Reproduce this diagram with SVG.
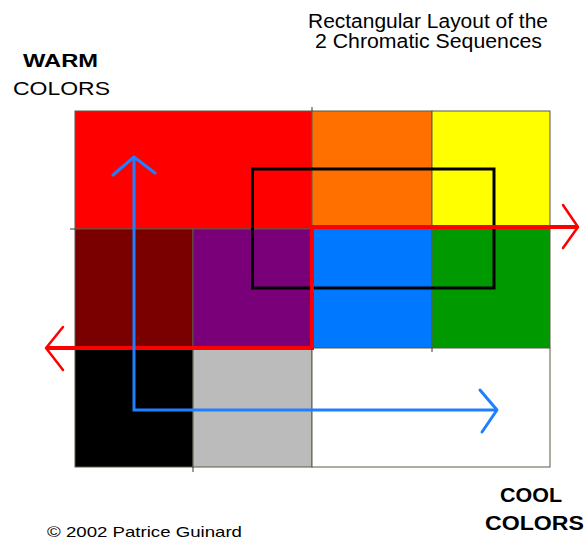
<svg xmlns="http://www.w3.org/2000/svg" width="587" height="540" viewBox="0 0 587 540">
  <style>
    .cell { stroke: #5a5a48; stroke-width: 1; }
    .lbl { font-family: "Liberation Sans", Arial, sans-serif; fill: #000; }
    .seq-warm { fill: none; stroke: #ff0000; stroke-width: 4; stroke-linejoin: miter; }
    .seq-cool { fill: none; stroke: #1e80ff; stroke-width: 3; stroke-linejoin: miter; }
    .head-warm { fill: none; stroke: #ff0000; stroke-width: 2.5; stroke-linecap: round; stroke-linejoin: round; }
    .head-cool { fill: none; stroke: #1e80ff; stroke-width: 3; stroke-linecap: round; stroke-linejoin: round; }
  </style>
  <rect width="587" height="540" fill="#ffffff"/>

  <!-- titles -->
  <g id="title">
    <text class="lbl" x="308" y="28" font-size="20" textLength="240" lengthAdjust="spacingAndGlyphs">Rectangular Layout of the</text>
    <text class="lbl" x="315" y="48" font-size="20" textLength="227" lengthAdjust="spacingAndGlyphs">2 Chromatic Sequences</text>
  </g>
  <g id="warm-label">
    <text class="lbl" x="23" y="67" font-size="19" font-weight="bold" textLength="75" lengthAdjust="spacingAndGlyphs">WARM</text>
    <text class="lbl" x="13" y="95" font-size="19" textLength="97" lengthAdjust="spacingAndGlyphs">COLORS</text>
  </g>
  <g id="cool-label">
    <text class="lbl" x="500" y="502" font-size="21" font-weight="bold" textLength="62" lengthAdjust="spacingAndGlyphs">COOL</text>
    <text class="lbl" x="485" y="530" font-size="21" font-weight="bold" textLength="99" lengthAdjust="spacingAndGlyphs">COLORS</text>
  </g>
  <g id="credit">
    <text class="lbl" x="47" y="537" font-size="15" textLength="195" lengthAdjust="spacingAndGlyphs">© 2002  Patrice Guinard</text>
  </g>

  <!-- colour grid, row by row -->
  <g id="cell-red"><rect class="cell" x="75" y="111" width="237" height="118" fill="#ff0000"/></g>
  <g id="cell-orange"><rect class="cell" x="312" y="111" width="120" height="118" fill="#ff7000"/></g>
  <g id="cell-yellow"><rect class="cell" x="432" y="111" width="118" height="118" fill="#ffff00"/></g>
  <g id="cell-darkred"><rect class="cell" x="75" y="229" width="118" height="119" fill="#7a0000"/></g>
  <g id="cell-purple"><rect class="cell" x="193" y="229" width="119" height="119" fill="#7a007a"/></g>
  <g id="cell-blue"><rect class="cell" x="312" y="229" width="120" height="119" fill="#0078ff"/></g>
  <g id="cell-green"><rect class="cell" x="432" y="229" width="118" height="119" fill="#009a00"/></g>
  <g id="cell-black"><rect class="cell" x="75" y="348" width="118" height="119" fill="#000000"/></g>
  <g id="cell-gray"><rect class="cell" x="193" y="348" width="119" height="119" fill="#bbbbbb"/></g>
  <g id="cell-white"><rect class="cell" x="312" y="348" width="238" height="119" fill="#ffffff"/></g>
  <g id="ticks" stroke="#3a3a30" stroke-width="1">
    <line x1="70" y1="229" x2="75" y2="229"/>
    <line x1="312" y1="107" x2="312" y2="111"/>
    <line x1="193" y1="467" x2="193" y2="472"/>
    <line x1="432" y1="348" x2="432" y2="352"/>
  </g>

  <!-- central frame -->
  <g id="frame">
    <rect x="252.5" y="169" width="241.5" height="119" fill="none" stroke="#000" stroke-width="3"/>
  </g>

  <!-- the two chromatic sequences -->
  <g id="connectors">
    <path class="seq-warm" d="M47 348 H312 V227 H577"/>
    <path class="head-warm" d="M63 327 L46 348 L63 370"/>
    <path class="head-warm" d="M563 205 L578 227 L563 248"/>
    <path class="seq-cool" d="M134 158 V410 H497"/>
    <path class="head-cool" d="M113 175 L134 157 L155 173"/>
    <path class="head-cool" d="M480 390 L497 410 L482 432"/>
  </g>
</svg>
